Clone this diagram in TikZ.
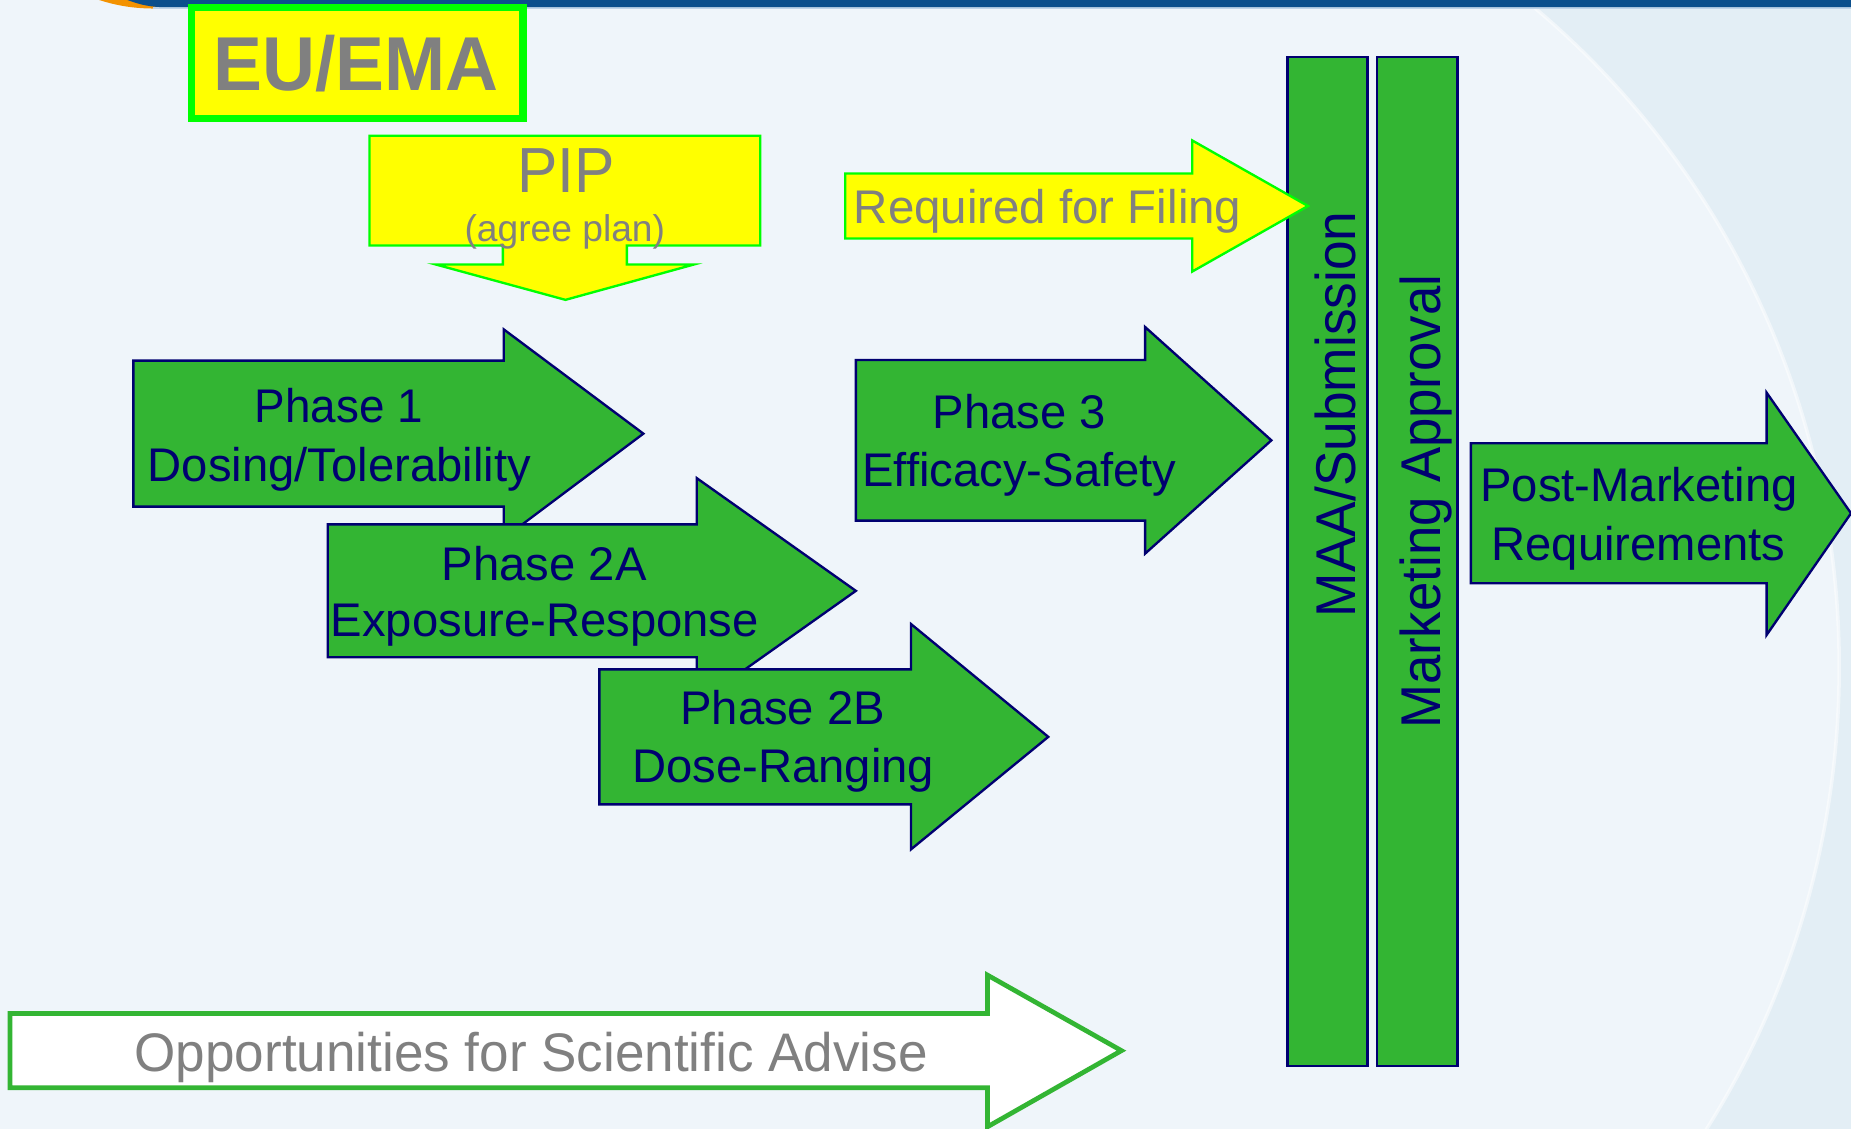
\documentclass[tikz,border=0pt]{standalone}
\usepackage{fontspec}
\setmainfont{Liberation Sans}
\usepackage{graphicx}

\definecolor{pagebg}{HTML}{EFF5FA}
\definecolor{pageshade}{HTML}{E3EEF5}
\definecolor{bandblue}{HTML}{0B4F8C}
\definecolor{bandlight}{HTML}{BFD4E8}
\definecolor{swoosh}{HTML}{F39200}
\definecolor{phasegreen}{HTML}{33B533}
\definecolor{navy}{HTML}{000070}
\definecolor{brightgreen}{HTML}{00FF00}
\definecolor{signyellow}{HTML}{FFFF00}
\definecolor{labelgray}{HTML}{808080}

% right-pointing block arrow:
% #1 style, #2 left x, #3 neck x, #4 tip x, #5 shaft top, #6 shaft bottom, #7 head top, #8 head bottom
\newcommand{\rightblock}[8]{%
  \path[#1] (#2,#5) -- (#3,#5) -- (#3,#7) -- (#4,{(#5+#6)/2}) -- (#3,#8) -- (#3,#6) -- (#2,#6) -- cycle;}

\begin{document}
\begin{tikzpicture}[x=1pt,y=-1pt,
  phasearrow/.style={fill=phasegreen, draw=navy, line width=2pt, line join=miter},
  yellowarrow/.style={fill=signyellow, draw=brightgreen, line width=2pt, line join=miter},
  advisearrow/.style={fill=white, draw=phasegreen, line width=4pt, line join=miter},
  ptext/.style={text=navy, font=\fontsize{40}{48}\selectfont, inner sep=0pt, anchor=base},
  gtext/.style={text=labelgray, inner sep=0pt, anchor=base},
  bartext/.style={text=navy, font=\fontsize{47.5}{54}\selectfont, inner sep=0pt, anchor=base, rotate=90}]

\useasboundingbox (0,0) rectangle (1568,956);

% page background with the shaded sweep on the right
\fill[pagebg] (0,0) rectangle (1568,956);
\begin{scope}
  \clip (1000,0) rectangle (1568,956);
  \fill[pageshade, even odd rule] (990,-20) rectangle (1600,980) (858,565) ellipse [x radius=700, y radius=720];
  \draw[white, opacity=0.5, line width=3pt] (858,565) ellipse [x radius=700, y radius=720];
\end{scope}

% header band
\fill[swoosh] (84,0) .. controls (98,4.5) and (112,7) .. (128,7.2) -- (140,7.2) -- (140,0) -- cycle;
\fill[bandlight] (130,6) rectangle (1568,7.8);
\fill[bandblue] (108,0) .. controls (116,3) and (124,5.5) .. (136,6) -- (1568,6) -- (1568,0) -- cycle;

% EU/EMA title box
\path[fill=signyellow, draw=brightgreen, line width=6pt] (162,6.5) rectangle (443,100);
\node[gtext, font=\bfseries\fontsize{64.7}{70}\selectfont] (euema) at (301.5,76.8) {\scalebox{0.96}[1]{EU/EMA}};

% PIP callout
\path[yellowarrow] (313,115) -- (644,115) -- (644,208) -- (531,208) -- (531,224) -- (588,224) -- (479,254)
  -- (369,224) -- (426,224) -- (426,208) -- (313,208) -- cycle;
\node[gtext, font=\fontsize{54}{60}\selectfont] (pip) at (479.5,163) {\scalebox{0.95}[1]{PIP}};
\node[gtext, font=\fontsize{31.5}{36}\selectfont] (pipsub) at (478.5,204.7) {(agree plan)};

% development phases
\rightblock{phasearrow}{113}{426.7}{545}{305.5}{429.2}{279}{456}
\node[ptext] (p1a) at (287,358) {\scalebox{0.97}[1]{Phase 1}};
\node[ptext] (p1b) at (287.5,407.5) {Dosing/Tolerability};

\rightblock{phasearrow}{277.6}{590.2}{725}{444.2}{556.8}{405}{596}
\node[ptext] (p2aa) at (461,491.5) {Phase 2A};
\node[ptext] (p2ab) at (461.5,539.5) {Exposure-Response};

\rightblock{phasearrow}{507.7}{771.7}{888}{567}{681.4}{528.6}{719.5}
\node[ptext] (p2ba) at (663,614) {Phase 2B};
\node[ptext] (p2bb) at (663.5,663) {Dose-Ranging};

\rightblock{phasearrow}{725}{970}{1077}{305}{441}{277}{469}
\node[ptext] (p3a) at (863.5,363) {Phase 3};
\node[ptext] (p3b) at (863.5,412) {Efficacy-Safety};

% submission and approval bars
\path[phasearrow] (1090.5,48.5) rectangle (1158.5,903);
\path[phasearrow] (1166.5,48.5) rectangle (1234.5,903);
\node[bartext] (maa) at (1148.5,351) {\scalebox{0.95}[1]{MAA/Submission}};
\node[bartext] (approval) at (1220,425) {\scalebox{0.94}[1]{Marketing Approval}};

% required for filing, its tip lying over the submission bar
\rightblock{yellowarrow}{716}{1010}{1108}{147}{202}{119}{230}
\node[gtext, font=\fontsize{40}{48}\selectfont, anchor=base west] (filing) at (723,189) {\scalebox{1.005}[1]{Required for Filing}};

% post-marketing
\rightblock{phasearrow}{1246}{1496.5}{1568}{375.5}{494.1}{332.6}{537.9}
\node[ptext] (pma) at (1388.5,425) {Post-Marketing};
\node[ptext] (pmb) at (1388,474.4) {Requirements};

% scientific advice
\rightblock{advisearrow}{8.5}{836.5}{950}{858.5}{921.5}{826}{954.5}
\node[gtext, font=\fontsize{46}{52}\selectfont] (advice) at (450,907.8) {\scalebox{0.977}[1]{Opportunities for Scientific Advise}};

\end{tikzpicture}
\end{document}
